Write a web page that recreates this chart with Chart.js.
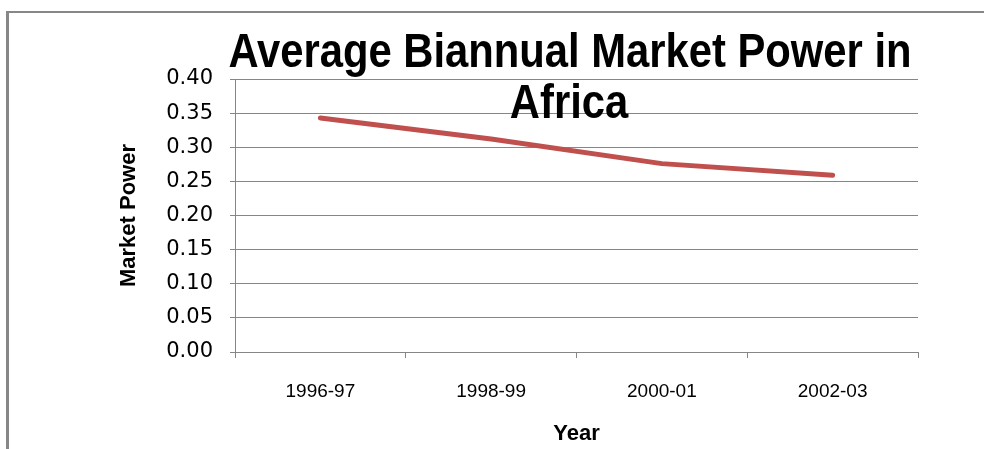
<!DOCTYPE html>
<html>
<head>
<meta charset="utf-8">
<script src="https://cdn.jsdelivr.net/npm/chart.js@4.4.1/dist/chart.umd.min.js"></script>
<style>
  html, body { margin: 0; padding: 0; background: #ffffff; }
  #wrap { position: relative; width: 984px; height: 449px; overflow: hidden; }
  #frame { position: absolute; left: 6px; top: 11px; width: 1000px; height: 500px;
           border-left: 3px solid #878787; border-top: 2px solid #878787; }
  canvas { position: absolute; left: 0; top: 0; }
</style>
</head>
<body>
<div id="wrap">
  <div id="frame"></div>
  <canvas id="c" width="984" height="449"></canvas>
</div>
<script>
const categories = ['1996-97', '1998-99', '2000-01', '2002-03'];
const marketPower = [0.343, 0.312, 0.276, 0.259];
const titleLines = ['Average Biannual Market Power in', 'Africa'];
const yTitle = 'Market Power';
const xTitle = 'Year';

const GRID = '#868686';

const titlePlugin = {
  id: 'overlayTitle',
  afterDraw(chart) {
    const ctx = chart.ctx;
    ctx.save();
    ctx.fillStyle = '#000000';
    ctx.textAlign = 'center';
    ctx.textBaseline = 'alphabetic';
    ctx.font = 'bold 48px "Liberation Sans", Arial, sans-serif';
    const sx = 0.87;
    ctx.save();
    ctx.translate(570, 67);
    ctx.scale(sx, 1);
    ctx.fillText(titleLines[0], 0, 0);
    ctx.restore();
    ctx.save();
    ctx.translate(569, 118);
    ctx.scale(sx, 1);
    ctx.fillText(titleLines[1], 0, 0);
    ctx.restore();
    ctx.restore();
  }
};

new Chart(document.getElementById('c'), {
  type: 'line',
  data: {
    labels: categories,
    datasets: [{
      data: marketPower,
      borderColor: '#C0504D',
      backgroundColor: '#C0504D',
      borderWidth: 5,
      borderCapStyle: 'round',
      borderJoinStyle: 'round',
      pointRadius: 0,
      tension: 0
    }]
  },
  options: {
    responsive: false,
    animation: false,
    layout: { padding: { top: 79, right: 66, left: 0, bottom: 0 } },
    plugins: {
      legend: { display: false },
      title: { display: false },
      tooltip: { enabled: false }
    },
    scales: {
      x: {
        offset: true,
        grid: { display: true, drawOnChartArea: false, drawTicks: true, tickLength: 6, color: GRID, offset: true },
        border: { display: true, color: GRID, width: 1 },
        ticks: { color: '#000', padding: 22, font: { family: 'Liberation Sans', size: 19 }, maxRotation: 0 },
        title: { display: true, text: xTitle, color: '#000', padding: { top: 0, bottom: 2 },
                 font: { family: 'Liberation Sans', size: 22, weight: 'bold' } },
        afterFit(scale) { scale.height = 97; }
      },
      y: {
        min: 0,
        max: 0.4,
        grid: { color: GRID, tickLength: 5, drawTicks: true },
        border: { display: true, color: GRID, width: 1 },
        ticks: { stepSize: 0.05, color: '#000', padding: 17,
                 font: { family: 'DejaVu Sans', size: 21 },
                 callback: (v) => Number(v).toFixed(2) },
        title: { display: true, text: yTitle, color: '#000', padding: { top: 116, bottom: 0 },
                 font: { family: 'Liberation Sans', size: 22, weight: 'bold' } },
        afterFit(scale) { scale.width = 235; }
      }
    }
  },
  plugins: [titlePlugin]
});
</script>
</body>
</html>
